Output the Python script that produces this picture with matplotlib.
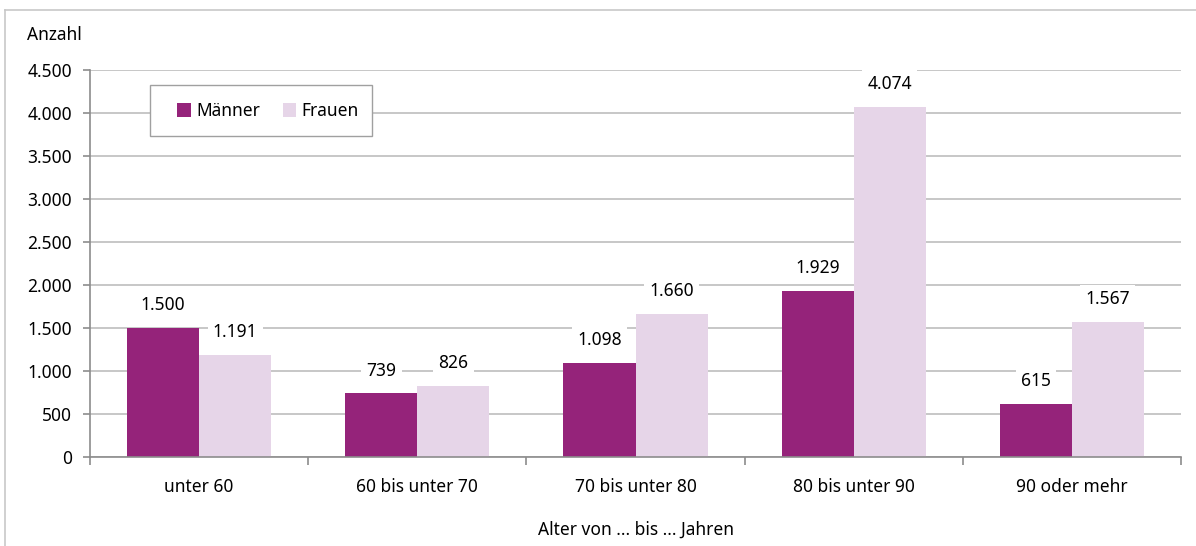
import matplotlib
matplotlib.use("Agg")
import matplotlib.pyplot as plt
from matplotlib.lines import Line2D
from matplotlib.patches import Rectangle
import numpy as np

categories = ["unter 60", "60 bis unter 70", "70 bis unter 80", "80 bis unter 90", "90 oder mehr"]
maenner = [1500, 739, 1098, 1929, 615]
frauen = [1191, 826, 1660, 4074, 1567]
series_names = ["Männer", "Frauen"]
yticks = [0, 500, 1000, 1500, 2000, 2500, 3000, 3500, 4000, 4500]

def fmt(v):
    return f"{v:,}".replace(",", ".")

plt.rcParams['font.family'] = ['Noto Sans', 'DejaVu Sans']
W, H = 1196, 546
L, R, T, B = 90, 1181, 70, 457
fig = plt.figure(figsize=(W/100, H/100), dpi=100)
ax = fig.add_axes([L/W, (H-B)/H, (R-L)/W, (B-T)/H])

def ax_frac(px, py):
    return ((px - L) / (R - L), 1 - (py - T) / (B - T))

c_m = "#95237A"
c_f = "#E6D5E8"
grid_c = "#BEBEBE"
axis_c = "#8C8C8C"

x = np.arange(len(categories))
bw = 0.33
b1 = ax.bar(x - bw/2, maenner, bw, color=c_m, label=series_names[0], zorder=2)
b2 = ax.bar(x + bw/2, frauen, bw, color=c_f, label=series_names[1], zorder=2)

ax.set_xlim(-0.5, len(categories) - 0.5)
ax.set_ylim(0, 4500)
ax.set_yticks(yticks)
ax.set_yticklabels([fmt(v) for v in yticks], fontsize=12.5)
ax.yaxis.grid(True, color=grid_c, linewidth=1.2, zorder=0)
ax.set_axisbelow(True)

ax.set_xticks(x)
ax.set_xticklabels(categories, fontsize=12.5)
ax.tick_params(axis='x', length=0, pad=15)
ax.set_xticks(np.arange(-0.5, len(categories)), minor=True)
ax.tick_params(axis='x', which='minor', length=6, direction='out', color=axis_c, width=1.2)
ax.tick_params(axis='y', length=5, direction='out', color=axis_c, width=1.2, pad=8)

for s in ["top", "right"]:
    ax.spines[s].set_visible(False)
for s in ["left", "bottom"]:
    ax.spines[s].set_color(axis_c)
    ax.spines[s].set_linewidth(1.2)

for bars, vals in ((b1, maenner), (b2, frauen)):
    for b, v in zip(bars, vals):
        ax.annotate(fmt(v), (b.get_x() + b.get_width()/2, v), xytext=(0, 10),
                    textcoords="offset points", ha="center", va="bottom", fontsize=12.5,
                    bbox=dict(boxstyle="square,pad=0.3", fc="white", ec="none"), zorder=3)

ax.text(*ax_frac(27, 35), "Anzahl", transform=ax.transAxes, fontsize=12.5,
        ha="left", va="center")
ax.set_xlabel("Alter von ... bis ... Jahren", fontsize=12.5, labelpad=18)

# legend frame
x0, y1 = ax_frac(150, 85)
x1, y0 = ax_frac(372, 136)
ax.add_patch(Rectangle((x0, y0), x1 - x0, y1 - y0, transform=ax.transAxes,
                       fc="white", ec="#A0A0A0", lw=1.0, zorder=4))
leg = ax.legend(loc="center left", bbox_to_anchor=ax_frac(177, 111),
                ncol=2, fontsize=12.5, frameon=False, handlelength=0.8,
                handleheight=0.8, handletextpad=0.3, columnspacing=1.3,
                borderpad=0, borderaxespad=0)
leg.set_zorder(5)

fig.add_artist(Line2D([5/W, 5/W], [0, 1 - 10/H], transform=fig.transFigure, color="#C8C8C8", lw=1.2))
fig.add_artist(Line2D([5/W, 1], [1 - 10/H, 1 - 10/H], transform=fig.transFigure, color="#C8C8C8", lw=1.2))

fig.savefig("out.png", dpi=100)
